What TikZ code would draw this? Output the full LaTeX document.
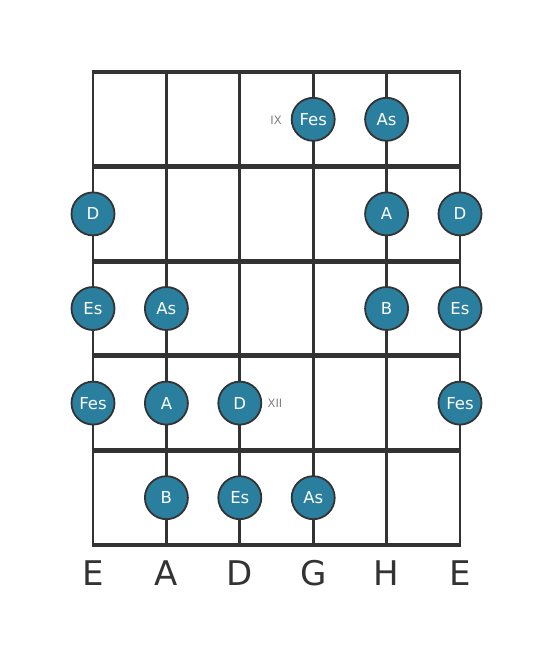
\documentclass[tikz,border=0pt]{standalone}
\usepackage{fontspec}
\setmainfont{DejaVu Sans}
\definecolor{dotfill}{HTML}{2A7F9E}
\definecolor{linecol}{HTML}{333333}
\begin{document}
\begin{tikzpicture}[x=1pt,y=-1pt,
  stringline/.style={draw=linecol,line width=2.8pt},
  fretline/.style={draw=linecol,line width=4.8pt},
  notedot/.style={circle,fill=dotfill,draw=linecol,line width=1.8pt,minimum size=43pt,inner sep=0pt,text=white,font=\fontsize{16.5}{16.5}\selectfont},
  fretmark/.style={text=gray,font=\fontsize{11.5}{11.5}\selectfont,inner sep=0pt},
  strname/.style={text=linecol,font=\fontsize{34}{34}\selectfont,inner sep=0pt}]
\useasboundingbox (0,0) rectangle (553,656);
% strings
\foreach \i/\x in {1/93,2/166.4,3/239.8,4/313.2,5/386.6,6/460}{
  \coordinate (st\i) at (\x,72);
  \coordinate (sb\i) at (\x,545);
  \draw[stringline] (st\i) -- (sb\i);
}
% frets
\foreach \j/\y in {0/72,1/166.6,2/261.2,3/355.8,4/450.4,5/545}{
  \coordinate (fl\j) at (91.6,\y);
  \coordinate (fr\j) at (461.4,\y);
  \draw[fretline] (fl\j) -- (fr\j);
}
% fret markers
\node[fretmark] (ix) at (276,120) {IX};
\node[fretmark] (xii) at (275,403.5) {XII};
% dots
\node[notedot] (n1) at (313.2,119.3) {Fes};
\node[notedot] (n2) at (386.6,119.3) {As};
\node[notedot] (n3) at (93,213.9) {D};
\node[notedot] (n4) at (386.6,213.9) {A};
\node[notedot] (n5) at (460,213.9) {D};
\node[notedot] (n6) at (93,308.5) {Es};
\node[notedot] (n7) at (166.4,308.5) {As};
\node[notedot] (n8) at (386.6,308.5) {B};
\node[notedot] (n9) at (460,308.5) {Es};
\node[notedot] (n10) at (93,403.1) {Fes};
\node[notedot] (n11) at (166.4,403.1) {A};
\node[notedot] (n12) at (239.8,403.1) {D};
\node[notedot] (n13) at (460,403.1) {Fes};
\node[notedot] (n14) at (166.4,497.7) {B};
\node[notedot] (n15) at (239.8,497.7) {Es};
\node[notedot] (n16) at (313.2,497.7) {As};
% string names
\foreach \i/\x/\t in {1/93/E,2/166.4/A,3/239.8/D,4/313.2/G,5/386.6/H,6/460/E}{
  \node[strname] (name\i) at (\x,573) {\t};
}
\end{tikzpicture}
\end{document}
